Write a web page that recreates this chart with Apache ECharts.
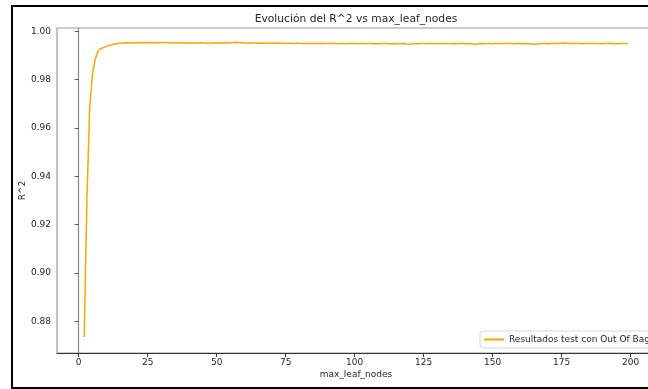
<!DOCTYPE html>
<html>
<head>
<meta charset="utf-8">
<script src="https://cdn.jsdelivr.net/npm/echarts@6/dist/echarts.min.js"></script>
<style>
  html, body { margin: 0; padding: 0; background: #fff; overflow: hidden; width: 648px; height: 389px; }
  #chart { position: absolute; left: 0; top: 0; width: 648px; height: 389px; }
  /* black frame around the figure, open on the right */
  #frame {
    position: absolute; left: 11px; top: 5px; width: 600px; height: 380px;
    border-left: 2.5px solid #000; border-top: 2.5px solid #000; border-bottom: 2.5px solid #000;
    pointer-events: none;
  }
  #frameTop, #frameBottom {
    position: absolute; left: 600px; width: 48px; height: 2.5px; background: #000;
  }
  #frameTop { top: -2.5px; }
  #frameBottom { bottom: -2.5px; }
</style>
</head>
<body>
<div id="chart"></div>
<div id="frame"><div id="frameTop"></div><div id="frameBottom"></div></div>
<script>
// Out-of-bag R^2 for each max_leaf_nodes value, starting at 2
const firstNode = 2;
const r2Values = [
  0.8735, 0.9310, 0.9685, 0.9822, 0.9885, 0.9918, 0.9928, 0.9933, 0.9938, 0.9942,
  0.9945, 0.9948, 0.9950, 0.9951,
  0.9952, 0.9953, 0.9952, 0.9953, 0.9953, 0.9952, 0.9953, 0.9954, 0.9953, 0.9953, 0.9954, 0.9953, 0.9952, 0.9953, 0.9954,
  0.9954, 0.9953, 0.9953, 0.9952, 0.9953, 0.9953, 0.9952, 0.9953, 0.9952, 0.9952, 0.9953, 0.9952, 0.9952, 0.9953, 0.9952,
  0.9952, 0.9951, 0.9952, 0.9952, 0.9953, 0.9952, 0.9952, 0.9953, 0.9952, 0.9953, 0.9954, 0.9955, 0.9954, 0.9953, 0.9952,
  0.9952, 0.9951, 0.9952, 0.9952, 0.9951, 0.9952, 0.9951, 0.9951, 0.9952, 0.9951, 0.9951, 0.9952, 0.9951, 0.9951, 0.9950,
  0.9951, 0.9951, 0.9950, 0.9951, 0.9951, 0.9950, 0.9951, 0.9950, 0.9950, 0.9951, 0.9950, 0.9950, 0.9951, 0.9950, 0.9950,
  0.9950, 0.9951, 0.9950, 0.9949, 0.9950, 0.9950, 0.9949, 0.9950, 0.9951, 0.9950, 0.9949, 0.9950, 0.9950, 0.9949, 0.9950,
  0.9950, 0.9949, 0.9950, 0.9949, 0.9950, 0.9950, 0.9949, 0.9949, 0.9950, 0.9949, 0.9948, 0.9949, 0.9950, 0.9948, 0.9947,
  0.9949, 0.9950, 0.9949, 0.9950, 0.9950, 0.9949, 0.9950, 0.9950, 0.9949, 0.9950, 0.9950, 0.9949, 0.9950, 0.9950, 0.9949,
  0.9950, 0.9949, 0.9950, 0.9950, 0.9949, 0.9950, 0.9949, 0.9948, 0.9947, 0.9949, 0.9950, 0.9949, 0.9950, 0.9950, 0.9949,
  0.9950, 0.9950, 0.9949, 0.9950, 0.9951, 0.9950, 0.9950, 0.9949, 0.9950, 0.9950, 0.9949, 0.9950, 0.9949, 0.9948, 0.9947,
  0.9948, 0.9949, 0.9950, 0.9950, 0.9949, 0.9950, 0.9951, 0.9950, 0.9950, 0.9951, 0.9952, 0.9951, 0.9950, 0.9950, 0.9951,
  0.9950, 0.9950, 0.9949, 0.9950, 0.9950, 0.9951, 0.9950, 0.9950, 0.9949, 0.9950, 0.9950, 0.9951, 0.9950, 0.9950, 0.9949,
  0.9950, 0.9950, 0.9950, 0.9950
];
const xTicks = [0, 25, 50, 75, 100, 125, 150, 175, 200];
const yTicks = [0.88, 0.90, 0.92, 0.94, 0.96, 0.98, 1.00];
const seriesName = 'Resultados test con Out Of Bag';
const titleText = 'Evolución del R^2 vs max_leaf_nodes';

const points = r2Values.map((v, i) => [firstNode + i, v]);

const font = 'DejaVu Sans';
const textColor = '#262626';

const chart = echarts.init(document.getElementById('chart'), null, { renderer: 'canvas' });
chart.setOption({
  animation: false,
  backgroundColor: '#fff',
  grid: {
    left: 57, top: 28, width: 598, height: 325,
    outerBoundsMode: 'none',
    containLabel: false,
    show: true, borderColor: '#9a9a9a', borderWidth: 1.2, backgroundColor: 'transparent'
  },
  xAxis: {
    type: 'value',
    min: -7.85, max: 208.85,
    name: 'max_leaf_nodes',
    nameLocation: 'middle',
    nameGap: 17,
    nameMoveOverlap: false,
    nameTextStyle: { fontFamily: font, fontSize: 9, color: textColor },
    axisLine: { show: true, lineStyle: { color: '#333', width: 1 } },
    axisTick: { show: true, length: 4, customValues: xTicks, lineStyle: { color: '#333' } },
    axisLabel: { customValues: xTicks, fontFamily: font, fontSize: 9, color: textColor, margin: 5 },
    splitLine: { show: false }
  },
  yAxis: {
    type: 'value',
    min: 0.8669, max: 1.0014,
    name: 'R^2',
    nameLocation: 'middle',
    nameGap: 30,
    nameMoveOverlap: false,
    nameTextStyle: { fontFamily: font, fontSize: 9, color: textColor },
    axisLine: { show: true, lineStyle: { color: '#888', width: 1.2 } },
    axisTick: { show: true, length: 4, customValues: yTicks, lineStyle: { color: '#555' } },
    axisLabel: {
      customValues: yTicks, fontFamily: font, fontSize: 9, color: textColor, margin: 6,
      formatter: v => v.toFixed(2)
    },
    splitLine: { show: false }
  },
  legend: {
    left: 480, top: 331,
    padding: [4, 5, 4, 4],
    itemWidth: 20, itemHeight: 2, itemGap: 6,
    borderColor: '#d6d6d6', borderWidth: 1, borderRadius: 3,
    backgroundColor: 'rgba(255,255,255,0.9)',
    textStyle: { fontFamily: font, fontSize: 9, color: textColor, width: 200, overflow: 'none' },
    data: [{ name: seriesName, icon: 'rect' }]
  },
  graphic: [
    {
      type: 'text', x: 356, y: 19, silent: true,
      style: { text: titleText, font: '10.7px "DejaVu Sans"', fill: textColor, align: 'center', verticalAlign: 'middle' }
    }
  ],
  series: [{
    name: seriesName,
    type: 'line',
    data: points,
    symbol: 'none',
    showSymbol: false,
    lineStyle: { color: '#ffa500', width: 1.5 },
    itemStyle: { color: '#ffa500' },
    z: 3
  }]
});
</script>
</body>
</html>
